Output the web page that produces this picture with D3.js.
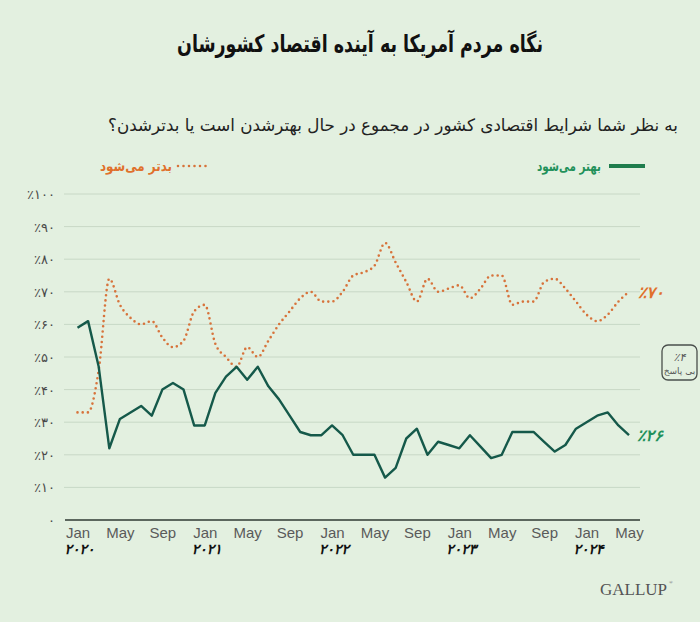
<!DOCTYPE html>
<html><head><meta charset="utf-8">
<script src="https://cdn.jsdelivr.net/npm/d3@7"></script>
<style>
html,body{margin:0;padding:0;background:#e3f0e0;}
svg{display:block;}
</style></head>
<body><svg id="c" width="700" height="622"></svg>
<script>
// ---- data ----
const months = ["Jan","Feb","Mar","Apr","May","Jun","Jul","Aug","Sep","Oct","Nov","Dec"];
const startYear = 2020;
const betterValues = [
  59, 61, 47, 22, 31, 33, 35, 32, 40, 42, 40, 29,
  29, 39, 44, 47, 43, 47, 41, 37, 32, 27, 26, 26,
  29, 26, 20, 20, 20, 13, 16, 25, 28, 20, 24, 23,
  22, 26, 22.5, 19, 20, 27, 27, 27, 24, 21, 23, 28,
  30, 32, 33, 29, 26
];
const worseValues = [
  33, 33, 46, 74, 66, 62, 60, 61, 56, 53, 55, 64,
  66, 54, 50, 47, 53, 50, 55, 60, 64, 68, 70, 67,
  67, 70, 75, 76, 78, 85, 79, 73, 67, 74, 70, 71,
  72, 68, 71, 75, 75, 66, 67, 67, 73, 74, 71, 67,
  63, 61, 63, 67, 70
];
const yTicks = [0,10,20,30,40,50,60,70,80,90,100];
const yTickLabels = ["۰","٪۱۰","٪۲۰","٪۳۰","٪۴۰","٪۵۰","٪۶۰","٪۷۰","٪۸۰","٪۹۰","٪۱۰۰"];
const xTickIdx = [0,4,8,12,16,20,24,28,32,36,40,44,48,52];
const yearTickIdx = [0,12,24,36,48];
const yearLabels = ["۲۰۲۰","۲۰۲۱","۲۰۲۲","۲۰۲۳","۲۰۲۴"];
const titleText = "نگاه مردم آمریکا به آینده اقتصاد کشورشان";
const subtitleText = "به نظر شما شرایط اقتصادی کشور در مجموع در حال بهترشدن است یا بدترشدن؟";
const legendBetter = "بهتر می‌شود";
const legendWorse = "بدتر می‌شود";
const endBetterLabel = "٪۲۶";
const endWorseLabel = "٪۷۰";
const noAnswerValue = "٪۴";
const noAnswerLabel = "بی پاسخ";

// ---- drawing ----
const svg = d3.select("#c");
const fa = "'DejaVu Sans', sans-serif";
const cGreenLine = "#15594a", cGreenText = "#22915a";
const cOrange = "#d7733b", cOrangeText = "#e0702c";

svg.append("rect").attr("width",700).attr("height",622).attr("fill","#e3f0e0");

const x = d3.scaleLinear().domain([0,52]).range([77.5,629]);
const y = d3.scaleLinear().domain([0,100]).range([520,194]);

// title & subtitle
svg.append("text").attr("x",360).attr("y",52).attr("text-anchor","middle")
  .attr("direction","rtl").attr("font-family",fa).attr("font-weight","bold")
  .attr("font-size",24).attr("fill","#111")
  .attr("textLength",366).attr("lengthAdjust","spacingAndGlyphs").text(titleText);
svg.append("text").attr("x",678).attr("y",131).attr("text-anchor","start")
  .attr("direction","rtl").attr("font-family",fa)
  .attr("font-size",17).attr("fill","#222")
  .attr("textLength",570).attr("lengthAdjust","spacingAndGlyphs").text(subtitleText);

// legend
svg.append("line").attr("x1",609).attr("x2",645).attr("y1",166).attr("y2",166)
  .attr("stroke","#1f7d4d").attr("stroke-width",4);
svg.append("text").attr("x",601).attr("y",171).attr("text-anchor","start")
  .attr("direction","rtl").attr("font-family",fa).attr("font-weight","bold")
  .attr("font-size",14).attr("fill",cGreenText)
  .attr("textLength",64).attr("lengthAdjust","spacingAndGlyphs").text(legendBetter);
svg.append("line").attr("x1",178).attr("x2",206).attr("y1",166).attr("y2",166)
  .attr("stroke",cOrange).attr("stroke-width",2.6).attr("stroke-linecap","round")
  .attr("stroke-dasharray","0,5.5");
svg.append("text").attr("x",172).attr("y",171).attr("text-anchor","start")
  .attr("direction","rtl").attr("font-family",fa).attr("font-weight","bold")
  .attr("font-size",14).attr("fill",cOrangeText)
  .attr("textLength",72).attr("lengthAdjust","spacingAndGlyphs").text(legendWorse);

// grid
const yAxis = d3.axisLeft(y).tickValues(yTicks).tickSize(0)
  .tickFormat((d,i)=>yTickLabels[i]);
const gy = svg.append("g").attr("transform","translate(56,0)").call(yAxis);
gy.select(".domain").remove();
gy.selectAll("text").attr("font-family",fa).attr("font-size",13).attr("fill","#4a4a4a")
  .attr("x",-1).attr("dy","0.35em");
svg.append("g").selectAll("line").data(yTicks.filter(d=>d>0)).join("line")
  .attr("x1",64).attr("x2",640).attr("y1",d=>y(d)).attr("y2",d=>y(d))
  .attr("stroke","#c8d8c6").attr("stroke-width",1);
svg.append("line").attr("x1",65).attr("x2",640).attr("y1",y(0)).attr("y2",y(0))
  .attr("stroke","#2f3a33").attr("stroke-width",1.4);

// x axis
const xAxis = d3.axisBottom(x).tickValues(xTickIdx).tickSize(0)
  .tickFormat(d=>months[d%12]);
const gx = svg.append("g").attr("transform","translate(0,521)").call(xAxis);
gx.select(".domain").remove();
gx.selectAll("text").attr("font-family","'Liberation Sans', Arial, sans-serif")
  .attr("font-size",15).attr("fill","#5a5a5a").attr("dy","0.75em").attr("y",6);
svg.append("g").selectAll("text").data(yearTickIdx).join("text")
  .attr("x",d=>x(d)+2).attr("y",554).attr("text-anchor","middle")
  .attr("font-family",fa).attr("font-weight","bold").attr("font-style","italic")
  .attr("font-size",14).attr("fill","#111").text((d,i)=>yearLabels[i]);

// lines
const idx = d3.range(betterValues.length);
svg.append("path").datum(idx)
  .attr("d", d3.line().x(i=>x(i)).y(i=>y(worseValues[i])).curve(d3.curveMonotoneX))
  .attr("fill","none").attr("stroke",cOrange).attr("stroke-width",2.6)
  .attr("stroke-linecap","round").attr("stroke-dasharray","0,5.2");
svg.append("path").datum(idx)
  .attr("d", d3.line().x(i=>x(i)).y(i=>y(betterValues[i])))
  .attr("fill","none").attr("stroke",cGreenLine).attr("stroke-width",2.4)
  .attr("stroke-linejoin","round");

// end labels
const last = betterValues.length-1;
svg.append("text").attr("x",x(last)+9).attr("y",y(worseValues[last])+6)
  .attr("font-family",fa).attr("font-weight","bold").attr("font-style","italic")
  .attr("font-size",16).attr("fill",cOrangeText).text(endWorseLabel);
svg.append("text").attr("x",x(last)+8).attr("y",y(betterValues[last])+6)
  .attr("font-family",fa).attr("font-weight","bold").attr("font-style","italic")
  .attr("font-size",16).attr("fill",cGreenText).text(endBetterLabel);

// no answer box
svg.append("rect").attr("x",662).attr("y",345).attr("width",35).attr("height",35)
  .attr("rx",6).attr("fill","none").attr("stroke","#4a4f4c").attr("stroke-width",1.3);
svg.append("text").attr("x",679.5).attr("y",361).attr("text-anchor","middle")
  .attr("font-family",fa).attr("font-style","italic").attr("font-size",11).attr("fill","#555").text(noAnswerValue);
svg.append("text").attr("x",679.5).attr("y",374).attr("text-anchor","middle")
  .attr("direction","rtl").attr("font-family",fa).attr("font-size",9).attr("fill","#555").text(noAnswerLabel);

// logo
svg.append("text").attr("x",667).attr("y",595).attr("text-anchor","end")
  .attr("font-family","'Liberation Serif', 'DejaVu Serif', serif")
  .attr("font-size",17).attr("fill","#555").text("GALLUP");
svg.append("text").attr("x",669).attr("y",584)
  .attr("font-family","'Liberation Serif', serif").attr("font-size",5).attr("fill","#555").text("®");
</script></body></html>
